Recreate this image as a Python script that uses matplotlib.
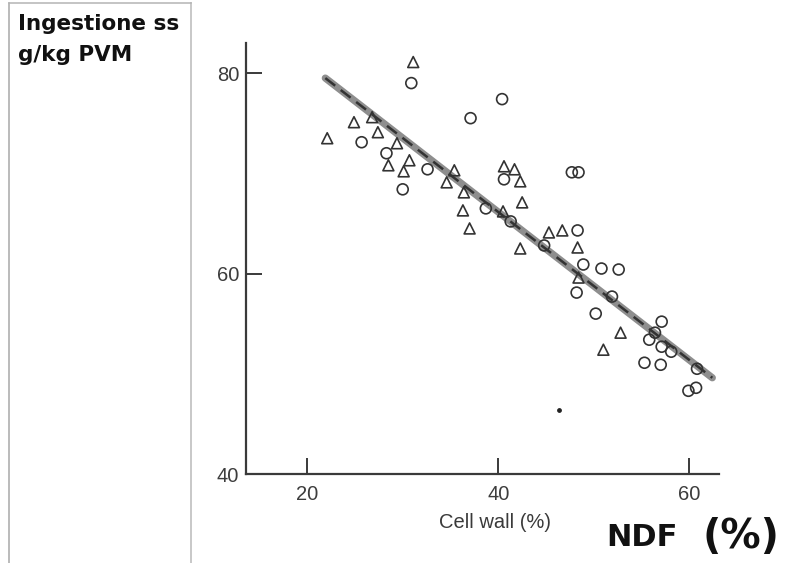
import matplotlib
matplotlib.use("Agg")
import matplotlib.pyplot as plt
from matplotlib.lines import Line2D

# ---- data ----
tri_x = [22.1, 24.9, 26.8, 27.4, 29.4, 28.5, 30.7, 30.1, 31.1, 34.6, 35.4, 36.4, 36.3,
         37.0, 40.6, 41.7, 42.3, 42.5, 40.5, 42.3, 45.3, 46.7, 48.3, 48.4, 52.8, 51.0]
tri_y = [73.5, 75.1, 75.6, 74.1, 73.0, 70.8, 71.3, 70.2, 81.1, 69.1, 70.3, 68.1, 66.3,
         64.5, 70.7, 70.4, 69.2, 67.1, 66.2, 62.5, 64.1, 64.3, 62.6, 59.6, 54.1, 52.4]

circ_x = [25.7, 28.3, 30.0, 32.6, 30.9, 37.1, 38.7, 40.4, 40.6, 47.7, 48.4, 41.3, 44.8,
          48.3, 48.9, 50.8, 52.6, 48.2, 51.9, 50.2, 57.1, 56.4, 55.8, 57.1, 58.1, 55.3,
          57.0, 60.8, 59.9, 60.7]
circ_y = [73.1, 72.0, 68.4, 70.4, 79.0, 75.5, 66.5, 77.4, 69.4, 70.1, 70.1, 65.2, 62.8,
          64.3, 60.9, 60.5, 60.4, 58.1, 57.7, 56.0, 55.2, 54.1, 53.4, 52.7, 52.2, 51.1,
          50.9, 50.5, 48.3, 48.6]

fit_x = [21.9, 62.4]
fit_y = [79.5, 49.6]

speck_x = [46.4]
speck_y = [46.4]

x_ticks = [20, 40, 60]
y_ticks = [40, 60, 80]
x_label = "Cell wall (%)"
y_title = ["Ingestione ss", "g/kg PVM"]
note = ["NDF", "(%)"]

W, H = 791, 563
fig = plt.figure(figsize=(W / 100, H / 100), dpi=100)
fig.patch.set_facecolor("white")

def fx(px):
    return px / W

def fy(py):
    return (H - py) / H

ax = fig.add_axes([fx(246), fy(474), fx(719) - fx(246), fy(43) - fy(474)])
ax.set_xlim(13.6, 63.1)
ax.set_ylim(40, 83.0)

axc = "#3a3a3a"
for s in ["top", "right"]:
    ax.spines[s].set_visible(False)
for s in ["left", "bottom"]:
    ax.spines[s].set_color(axc)
    ax.spines[s].set_linewidth(1.6)

ax.set_xticks(x_ticks)
ax.set_yticks(y_ticks)
ax.tick_params(axis="both", direction="in", length=11.5, width=1.4, color=axc,
               labelsize=14.5, labelcolor="#3d3d3d")
ax.tick_params(axis="x", pad=8)
ax.tick_params(axis="y", pad=5)
for lab in ax.get_xticklabels() + ax.get_yticklabels():
    lab.set_fontfamily("Liberation Sans")

# regression band and dashed line
ax.plot(fit_x, fit_y, color="#8e8e8e", lw=5.2, solid_capstyle="round", zorder=2)

ax.scatter(tri_x, tri_y, marker="^", s=62, facecolors="none", edgecolors="#333333",
           linewidths=1.2, zorder=3)
ax.scatter(circ_x, circ_y, marker="o", s=62, facecolors="none", edgecolors="#333333",
           linewidths=1.2, zorder=3)

dl, = ax.plot(fit_x, fit_y, color="#333333", lw=1.8, zorder=4)
dl.set_dashes([5, 2.8])

ax.scatter(speck_x, speck_y, marker="o", s=6, color="#222222", zorder=3)

# x label
fig.text(fx(495.5), fy(523), x_label, ha="center", va="center", fontsize=14.5,
         color="#3a3a3a", family="Liberation Sans")

# handwritten-like note
fig.text(fx(606), fy(546), note[0], ha="left", va="baseline", fontsize=22,
         fontweight="bold", color="#111111", family="DejaVu Sans")
fig.text(fx(702), fy(537), note[1], ha="left", va="center", fontsize=29,
         fontweight="bold", color="#111111", family="DejaVu Sans")

# left panel box
bc = "#b4b4b4"
fig.add_artist(Line2D([fx(9.3), fx(9.3)], [fy(3.3), 0], color="#a8a8a8", lw=1.1))
fig.add_artist(Line2D([fx(190.7), fx(190.7)], [fy(3.3), 0], color="#c8c8c8", lw=1.4))
fig.add_artist(Line2D([fx(9.3), fx(190.7)], [fy(3.3), fy(3.3)], color=bc, lw=1.1))

fig.text(fx(18), fy(30), y_title[0], ha="left", va="baseline", fontsize=15.5,
         fontweight="bold", color="#111111", family="DejaVu Sans")
fig.text(fx(18), fy(61), y_title[1], ha="left", va="baseline", fontsize=15.5,
         fontweight="bold", color="#111111", family="DejaVu Sans")

fig.savefig("out.png", dpi=100, facecolor="white")
